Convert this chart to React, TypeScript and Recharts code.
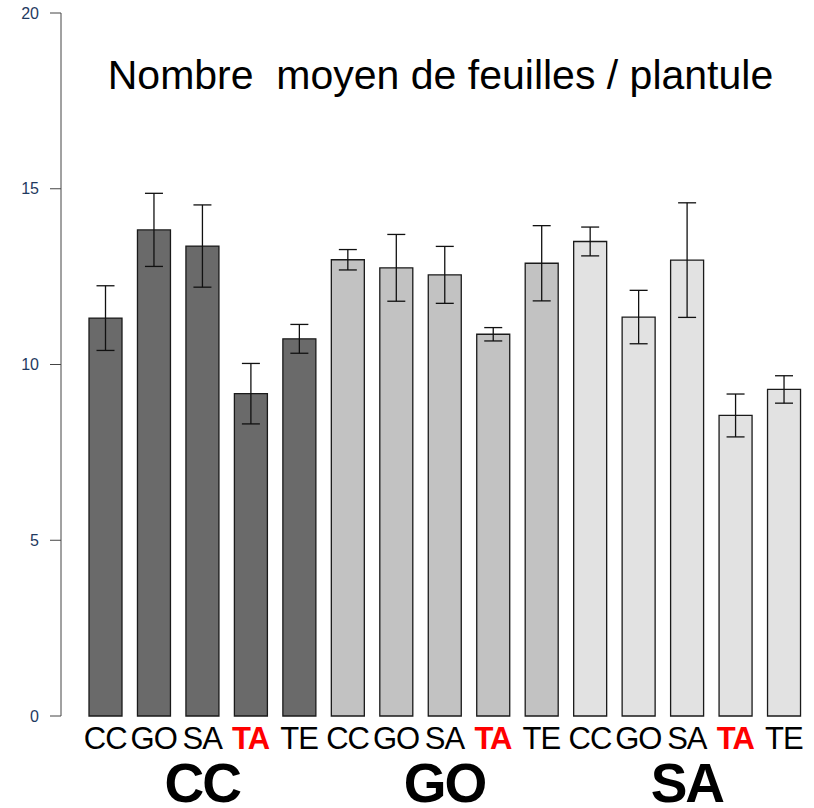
import { Bar, BarChart, Cell, ErrorBar, XAxis, YAxis } from "recharts";

const groups = ["CC", "GO", "SA"];
const treatments = ["CC", "GO", "SA", "TA", "TE"];
const highlighted = "TA";

const means = [
  11.32, 13.83, 13.37, 9.17, 10.73,
  12.98, 12.75, 12.55, 10.86, 12.88,
  13.5, 11.35, 12.97, 8.55, 9.29,
];
const errors = [
  0.92, 1.04, 1.17, 0.86, 0.41,
  0.29, 0.95, 0.81, 0.19, 1.07,
  0.41, 0.76, 1.63, 0.61, 0.39,
];
const groupColors = ["#6a6a6a", "#c2c2c2", "#e2e2e2"];
const yTicks = [0, 5, 10, 15, 20];

const chartData = groups.flatMap((g, gi) =>
  treatments.map((t, ti) => {
    const i = gi * treatments.length + ti;
    return { key: `${g}-${t}`, group: g, treatment: t, mean: means[i], err: errors[i], gi, ti };
  })
);

const FONT = "'Liberation Sans', Arial, sans-serif";

function XTick({ x, y, payload }: any) {
  const row = chartData.find((d) => d.key === payload.value);
  if (!row) return null;
  const isHot = row.treatment === highlighted;
  const isMiddle = row.ti === Math.floor(treatments.length / 2);
  return (
    <g>
      <text
        x={x}
        y={y + 33}
        textAnchor="middle"
        fontFamily={FONT}
        fontSize={31}
        fontWeight={isHot ? "bold" : "normal"}
        fill={isHot ? "#ff0000" : "#000"}
        letterSpacing={-1}
      >
        {row.treatment}
      </text>
      {isMiddle && (
        <text
          x={x}
          y={y + 86}
          textAnchor="middle"
          fontFamily={FONT}
          fontSize={55}
          fontWeight="bold"
          fill="#000"
          letterSpacing={-2}
        >
          {row.group}
        </text>
      )}
    </g>
  );
}

export default function App() {
  return (
    <div style={{ position: "absolute", left: 0, top: 0, width: 814, height: 808, background: "#fff" }}>
      <BarChart
        width={814}
        height={808}
        data={chartData}
        margin={{ top: 13, right: 6, bottom: 0, left: 0 }}
      >
        <XAxis
          dataKey="key"
          height={92}
          axisLine={false}
          tickLine={false}
          tickSize={0}
          tickMargin={0}
          interval={0}
          padding={{ left: 20, right: 0 }}
          tick={<XTick />}
        />
        <YAxis
          width={61}
          domain={[0, 20]}
          ticks={yTicks}
          interval={0}
          tickSize={11}
          tickMargin={11}
          axisLine={{ stroke: "#444", strokeWidth: 1 }}
          tickLine={{ stroke: "#444", strokeWidth: 1 }}
          tick={{ fill: "#1f3a5f", fontSize: 16, fontFamily: FONT }}
        />
        <Bar dataKey="mean" barSize={33} stroke="#1a1a1a" strokeWidth={1.3} isAnimationActive={false}>
          {chartData.map((d) => (
            <Cell key={d.key} fill={groupColors[d.gi]} />
          ))}
          <ErrorBar dataKey="err" width={9} stroke="#111" strokeWidth={1.3} isAnimationActive={false} />
        </Bar>
      </BarChart>
      <div
        style={{
          position: "absolute",
          left: 0,
          width: 881,
          top: 51,
          textAlign: "center",
          fontFamily: FONT,
          fontSize: 41,
          lineHeight: "48px",
          whiteSpace: "pre",
          color: "#000",
        }}
      >
        {"Nombre  moyen de feuilles / plantule"}
      </div>
    </div>
  );
}
